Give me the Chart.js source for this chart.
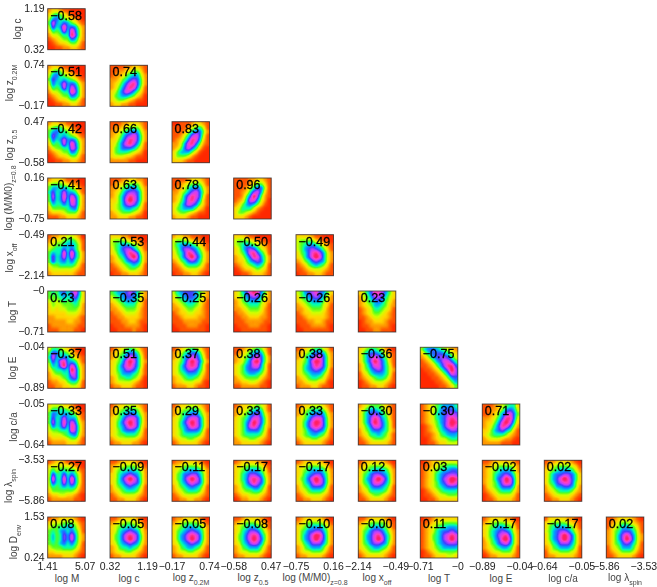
<!DOCTYPE html>
<html>
<head>
<meta charset="utf-8">
<title>Corner plot</title>
<script src="https://cdn.jsdelivr.net/npm/chart.js@4"></script>
<style>
    html, body { margin: 0; padding: 0; background: #fff; }
    body { position: relative; width: 657px; height: 587px; overflow: hidden; font-family: "Liberation Sans", Arial, sans-serif; }
    canvas { position: absolute; }
    .axis-name { position: absolute; white-space: nowrap; font-size: 10px; color: #444; transform: translate(-50%, -50%); }
    .axis-name.vertical { transform: translate(-50%, -50%) rotate(-90deg); }
    .axis-name sub { font-size: 7px; vertical-align: -4px; line-height: 0; }
</style>
</head>
<body>
<script>
// Ranges of the 11 quantities, in the order of the plot
const axisNames = ['log M', 'log c', 'log z<sub>0.2M</sub>', 'log z<sub>0.5</sub>', 'log (M/M0)<sub>z=0.8</sub>', 'log x<sub>off</sub>', 'log T', 'log E', 'log c/a', 'log λ<sub>spin</sub>', 'log D<sub>env</sub>'];
const axisMin = [1.41, 0.32, -0.17, -0.58, -0.75, -2.14, -0.71, -0.89, -0.64, -5.86, 0.24];
const axisMax = [5.07, 1.19, 0.74, 0.47, 0.16, -0.49, 0, -0.04, -0.05, -3.53, 1.53];
const axisMinLabels = ['1.41', '0.32', '−0.17', '−0.58', '−0.75', '−2.14', '−0.71', '−0.89', '−0.64', '−5.86', '0.24'];
const axisMaxLabels = ['5.07', '1.19', '0.74', '0.47', '0.16', '−0.49', '−0', '−0.04', '−0.05', '−3.53', '1.53'];

// Correlation coefficient printed in each panel, row by row
const correlations = [
    ['−0.58'],
    ['−0.51', '0.74'],
    ['−0.42', '0.66', '0.83'],
    ['−0.41', '0.63', '0.78', '0.96'],
    ['0.21', '−0.53', '−0.44', '−0.50', '−0.49'],
    ['0.23', '−0.35', '−0.25', '−0.26', '−0.26', '0.23'],
    ['−0.37', '0.51', '0.37', '0.38', '0.38', '−0.36', '−0.75'],
    ['−0.33', '0.35', '0.29', '0.33', '0.33', '−0.30', '−0.30', '0.71'],
    ['−0.27', '−0.09', '−0.11', '−0.17', '−0.17', '0.12', '0.03', '−0.02', '0.02'],
    ['0.08', '−0.05', '−0.05', '−0.08', '−0.10', '−0.00', '0.11', '−0.17', '−0.17', '0.02']
];

// Level of each panel on a 10x10 grid (hex digit, top row first)
const density = [
    ['2332110000 3565421000 4786543210 5a76875421 4967b78742 3656a6b852 244566c952 1234558742 0123345531 0011223321'],
    ['2332110000 3565321000 4786543210 5976765421 4867a78742 3656a6a852 244566b952 1234558752 0123345531 0011223321',
     '1111223321 1122345531 1223567742 2235689852 23468ab852 23579ba741 3468a97531 3567765320 3455432110 2332211000'],
    ['2332211000 4566432100 5786653210 5976765421 4867a78742 3656a6b852 245566a952 1234558742 0123345531 0011223321',
     '1112233321 1223455531 2235678742 234689a852 33579ba852 3468ab9741 3568887531 3566654320 3444332110 2222211000',
     '0011123321 1111245641 1112468852 112469a841 12358ba731 2247ab8521 2358a86310 3577753100 3555421000 3332110000'],
    ['2333211100 4555432210 5776765421 6967a77631 5a67b7a852 5967a6b952 476686a952 3555567842 2333455531 1112233321',
     '1112233221 1233555531 2235678642 2346899852 23579ba852 3357aca852 34579a9741 3456776531 2345554320 2233322110',
     '1111233321 1123455531 1224678742 224579a852 23479ba841 2357ab9731 3468a98531 3567775320 3455432110 2333211000',
     '1111223321 1111245531 1112468841 112369a731 11258c9521 1236aa7420 2357875310 3466642100 3554321000 3332100000'],
    ['1223344320 2344566531 3455677641 4566868641 5766b6b752 5967a6a752 5967868642 4556666531 3444444321 2333333211',
     '3332211100 4555432210 4567765421 3568997531 34679ba842 23568ac952 2345789852 1234567641 1123455431 0112233321',
     '2332211100 4555432210 4677765321 4579987531 3568ba8642 3468ac9742 2356898642 1235666531 1123444321 0112233210',
     '3332110000 4555432110 4567654321 3468986431 3457ab8641 23468ba752 2335789852 1234567641 0123345431 0011233321',
     '3333211000 4555532110 4567765321 4578987531 3568ab9742 3468aca742 2356898742 1235676531 1123444321 0112233211'],
    ['5657868a73 5556767963 4545656753 3544555652 3434455542 3333344432 2233333321 2222233221 1222222211 1112222110',
     '5677898642 4567887632 3456777531 2345666431 2234555421 1223444321 1122333321 1112233211 0111222210 0011112110',
     '4678887542 3567887532 3456776431 2345665421 2234554321 1233443321 1123333221 1112222211 0111222110 0011111110',
     '3468aba752 3457898642 2356777532 2345666431 2234555421 1223444321 1122333221 1112222211 0111222110 0011111110',
     '45789a8753 3567898642 3456777532 2345666431 2234555421 1233444321 1123333321 1112233211 0111222210 0011111110',
     '3468aa9753 2457998643 2356787542 2345776532 1234665431 1234554321 1123443321 0122333211 0112222210 0011221110'],
    ['4665432100 5986653210 6a76875321 596ab77631 4769c7a842 356676c952 245566a952 2334568952 1223356641 1122334431',
     '1234565421 2345788631 23568a9741 3457aca742 3468ab9741 3467998631 3457776531 2355665420 2344443210 1223332110',
     '1234565421 2346788631 23578a9741 3457aca852 3468aba741 3467998641 3456777531 2345665421 2334443310 1222332110',
     '1123456531 1234678741 234579a852 23468bc852 34578aa741 3457888641 3456776531 2345555321 2233443210 1122222110',
     '1234566431 2345788742 23578aa852 3457acb852 34679ba852 3467898741 3456777531 2345665421 2234443310 1222332110',
     '3456654210 3578876321 3579a97531 3579ca8631 2468aa8641 2457898642 1346777641 1234566531 0123444321 0112233210',
     '5788765432 3578887643 2357899864 123578aa86 1123579bb8 01123579c9 00112357a9 0001123578 0000112357 0000011235'],
    ['3444332100 4666654210 5876776521 5967a77731 5a67b7a842 4867a6b952 455666b952 3444567842 2333345531 1222233321',
     '1233444321 2345666531 2356788642 34579aa852 3468aca852 34679ba842 3457888641 3455666531 2344444321 1223332210',
     '1233444321 2345566531 2356788642 34579aa852 3468aca852 34679ba852 3457888741 3456666531 2344554321 1233333210',
     '1233445431 2334567631 2345789742 34568aa852 34579ca852 3457ab9742 3457888641 3456666531 2344554321 2233333210',
     '1233444321 2345666531 2356788742 34579aa852 3468acb852 3468aba852 3457898741 3456776531 2344554321 1233333210',
     '2345554321 3467765421 3578986531 3579ba7631 3579ca8641 3468aa8641 2457887642 2346676531 1234555431 1123333321',
     '1234567776 1234578887 1234678999 1234678aba 1234578acb 0123568aba 0123467899 0112356777 0012344566 0011233444',
     '1112345663 1122357874 1123579a85 223468bb84 23357aca73 23468ba852 3357897631 3456665321 2344432210 2222211100'],
    ['1233211000 3444443210 4646656521 4966968641 4b66b6b741 4966a6a741 4656767631 3555555421 2334433210 1222222110',
     '1123333210 2344555431 2456676642 3467898752 3468aca852 34679a9852 2456787641 2345666531 1234444321 1122333210',
     '1223333210 3345555431 3456777642 3568899752 3568aca852 34679a9852 2456787641 2345666531 1234444321 1122332210',
     '1233332210 3345555421 3456777541 3467998742 3467aba852 34579b9852 2356788641 2345566531 1233444321 0122333210',
     '1233333210 3345555431 3456777642 3467899752 3568aca852 34679ba852 2456888741 2345666531 1234444321 1122333210',
     '1233333210 2345555431 3456777642 3568998752 3578aca852 3568aa9752 2457887641 2346666531 1234554321 1123333210',
     '0123344444 1123455666 1234567788 1234678999 1234679acb 1234578aba 1234567888 0123456666 0112344555 0011233333',
     '1123333321 2234555542 2345677752 2346789863 234689ca73 234579ba73 1345688862 1234566642 0123444431 0112333321',
     '1223333210 2345555431 3456777642 3578899863 3578aca863 35689aa853 2457788752 2345666532 1234444321 1122333210'],
    ['1223333210 3444555421 4556677531 5657868641 575697a742 575697a742 5657868641 4555666531 3344444321 2222333210',
     '1123333210 2344554421 3456676541 3467898742 3568aba852 3568aca852 3467898742 2356676531 2344554321 1223333210',
     '1223333210 2345555421 3456776642 3567898752 3578aba852 3578aca852 3467898742 2356776531 2344554321 1223333210',
     '1123333210 2345554321 3456776531 3467998642 3568aba752 3568aca852 34679a9742 2356777531 2344555421 1223333210',
     '1233333210 2345555431 3456777642 3568899752 3578acb852 3578aca852 3467999752 2356777531 2344555421 1223333210',
     '1123333210 2345555421 3456776531 3568998642 3578ab9752 3578aca752 3568998742 3456776531 2345554321 1233333210',
     '0112333333 1123445555 1234566777 1234678898 1235679aba 1235679aca 1234678999 1234567777 0123455555 0112333443',
     '1233332210 2345554421 3456776541 3467898742 34679ab852 24578bc952 235689a852 2345677641 1234455531 0122333321',
     '1333332210 3455554321 3567776531 4578998642 3578aca852 3578aca852 3467999752 2356777641 1344555431 1223333321',
     '1123333210 1234554321 1345776531 2356888641 23579b9742 23579ca742 2356898641 1345777531 1234555421 1123333210']
];

// Colours of the levels, from the outside of a panel to its peak
const levelColors = [[255, 40, 0], [255, 84, 0], [255, 152, 0], [255, 216, 0], [208, 255, 0], [80, 255, 32], [0, 255, 176], [0, 160, 255], [64, 64, 255], [192, 64, 255], [255, 64, 192], [255, 32, 104], [255, 32, 64]];
const topLevel = levelColors.length - 1;

// Layout of the panels on the page
const panelLeft = [47.7, 110, 172, 233.7, 296, 358.3, 420.3, 482.3, 544.3, 606.3];
const panelTop = [8.7, 65.3, 121.7, 178, 234.7, 291, 347.3, 404, 460.3, 517];
const panelWidth = 37.5;
const panelHeight = 41;

// Where the axis names sit: [center x, center y]
const yNamePos = [[17, 29], [9, 83], [9, 145], [8, 198], [9, 258], [12, 312], [12, 368], [13, 427], [8, 486], [13, 542]];
const xNamePos = [[67, 578], [129, 578], [191, 577], [253, 577], [315, 577], [377, 577], [439, 578], [501, 578], [563, 578], [625, 577]];

const tickFont = { family: '"Liberation Sans", Arial, sans-serif', size: 10.5 };

// Colour of a level value, blending between the two nearest levels
function levelToRgb(level) {
    const i = Math.min(Math.floor(level), topLevel - 1);
    const f = level - i;
    const a = levelColors[i], b = levelColors[i + 1];
    return [a[0] + (b[0] - a[0]) * f, a[1] + (b[1] - a[1]) * f, a[2] + (b[2] - a[2]) * f];
}

// The cells are drawn as grey levels, softened, then coloured pixel by pixel
const panelPlugin = {
    id: 'panelPlugin',
    beforeDatasetsDraw: function(chart) {
        const ctx = chart.ctx, a = chart.chartArea;
        ctx.fillStyle = '#000';
        ctx.fillRect(a.left, a.top, a.right - a.left, a.bottom - a.top);
    },
    afterDatasetsDraw: function(chart) {
        const ctx = chart.ctx, a = chart.chartArea;
        const x = Math.floor(a.left), y = Math.floor(a.top);
        const w = Math.ceil(a.right) - x, h = Math.ceil(a.bottom) - y;
        ctx.save();
        ctx.beginPath();
        ctx.rect(a.left, a.top, a.right - a.left, a.bottom - a.top);
        ctx.clip();
        ctx.filter = 'blur(1.6px)';
        ctx.drawImage(chart.canvas, a.left, a.top, a.right - a.left, a.bottom - a.top, a.left, a.top, a.right - a.left, a.bottom - a.top);
        ctx.restore();

        const img = ctx.getImageData(x, y, w, h);
        for (let i = 0; i < img.data.length; i += 4) {
            if (img.data[i + 3] === 0) { continue; }
            const rgb = levelToRgb(img.data[i] / 255 * topLevel);
            img.data[i] = rgb[0];
            img.data[i + 1] = rgb[1];
            img.data[i + 2] = rgb[2];
        }
        ctx.putImageData(img, x, y);
    },
    afterDraw: function(chart, args, opts) {
        const ctx = chart.ctx, a = chart.chartArea;
        ctx.save();
        ctx.strokeStyle = 'rgba(50, 50, 50, 0.8)';
        ctx.lineWidth = 1;
        ctx.strokeRect(a.left, a.top, a.right - a.left, a.bottom - a.top);
        ctx.fillStyle = '#000';
        ctx.strokeStyle = '#000';
        ctx.lineWidth = 0.3;
        ctx.font = '12.5px "Liberation Sans", Arial, sans-serif';
        ctx.textBaseline = 'alphabetic';
        ctx.fillText(opts.label, a.left + 2.5, a.top + 11);
        ctx.strokeText(opts.label, a.left + 2.5, a.top + 11);
        ctx.restore();
    }
};

// Turns a grid string into points, one per cell, in the units of the two axes
function gridPoints(grid, xi, yi) {
    const rows = grid.split(' ');
    const points = [];
    const dx = (axisMax[xi] - axisMin[xi]) / 10;
    const dy = (axisMax[yi] - axisMin[yi]) / 10;
    rows.forEach(function(row, r) {
        row.split('').forEach(function(ch, c) {
            points.push({ x: axisMin[xi] + (c + 0.5) * dx, y: axisMax[yi] - (r + 0.5) * dy, v: parseInt(ch, 16) });
        });
    });
    return points;
}

function axisOptions(index, visible, size) {
    return {
        type: 'linear',
        min: axisMin[index],
        max: axisMax[index],
        display: visible,
        grid: { display: false, drawTicks: false },
        border: { display: false },
        afterBuildTicks: function(scale) {
            scale.ticks = [{ value: axisMin[index] }, { value: axisMax[index] }];
        },
        afterFit: function(scale) {
            // fixed axis size so that the plot box stays where it is in the reference
            const fixed = visible ? size : 0;
            if (scale.isHorizontal()) { scale.height = fixed; } else { scale.width = fixed; }
            scale.paddingLeft = scale.paddingRight = scale.paddingTop = scale.paddingBottom = 0;
        },
        ticks: {
            autoSkip: false,
            maxRotation: 0,
            padding: 3,
            color: '#222',
            font: tickFont,
            callback: function(value, i) {
                return i === 0 ? axisMinLabels[index] : axisMaxLabels[index];
            }
        }
    };
}

function createPanel(row, col) {
    const canvas = document.createElement('canvas');
    const left = Math.floor(panelLeft[col]) - 47;
    const top = Math.floor(panelTop[row]) - 8;
    const padLeft = panelLeft[col] - left;
    const padTop = panelTop[row] - top;
    canvas.width = Math.ceil(padLeft + panelWidth + 20);
    canvas.height = Math.ceil(padTop + panelHeight + 22);
    const padRight = canvas.width - padLeft - panelWidth;
    const padBottom = canvas.height - padTop - panelHeight;
    canvas.style.left = left + 'px';
    canvas.style.top = top + 'px';
    document.body.appendChild(canvas);

    new Chart(canvas, {
        type: 'scatter',
        data: {
            datasets: [{
                data: gridPoints(density[row][col], col, row + 1),
                clip: 0,
                pointStyle: 'rect',
                pointRadius: 3.1,
                pointBorderWidth: 0,
                pointBackgroundColor: function(ctx) {
                    const g = Math.round(ctx.raw.v / topLevel * 255);
                    return 'rgb(' + g + ',' + g + ',' + g + ')';
                }
            }]
        },
        options: {
            responsive: false,
            animation: false,
            events: [],
            layout: {
                padding: {
                    left: col === 0 ? 0 : padLeft,
                    top: padTop,
                    right: padRight,
                    bottom: row === 9 ? 0 : padBottom
                }
            },
            plugins: {
                legend: { display: false },
                tooltip: { enabled: false },
                panelPlugin: { label: correlations[row][col] }
            },
            scales: {
                x: axisOptions(col, row === 9, padBottom),
                y: axisOptions(row + 1, col === 0, padLeft)
            }
        },
        plugins: [panelPlugin]
    });
}

function addAxisName(html, pos, vertical) {
    const div = document.createElement('div');
    div.className = 'axis-name' + (vertical ? ' vertical' : '');
    div.style.left = pos[0] + 'px';
    div.style.top = pos[1] + 'px';
    div.innerHTML = html;
    document.body.appendChild(div);
}

density.forEach(function(panels, row) {
    panels.forEach(function(grid, col) {
        createPanel(row, col);
    });
    addAxisName(axisNames[row + 1], yNamePos[row], true);
    addAxisName(axisNames[row], xNamePos[row], false);
});
</script>
</body>
</html>
